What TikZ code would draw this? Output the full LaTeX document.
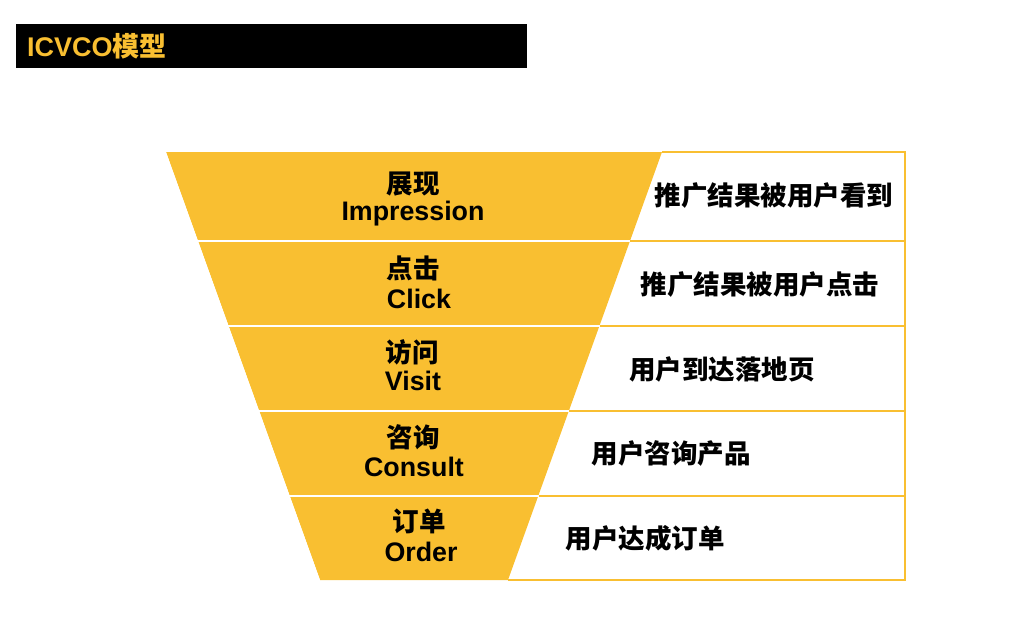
\documentclass[tikz,border=0pt]{standalone}
\usepackage{fontspec}
\setmainfont{Liberation Sans}
\newfontfamily\cjk{Noto Sans CJK SC}
\definecolor{funnel}{HTML}{F9BF31}
\begin{document}
\begin{tikzpicture}[x=1pt,y=-1pt,
  lbl/.style={font=\fontsize{26.8}{30}\selectfont\bfseries, text=black, inner sep=0pt, anchor=center},
  zh/.style={font=\fontsize{26.5}{30}\selectfont\cjk\bfseries, text=black, inner sep=0pt, anchor=center},
  sep/.style={draw=white, line width=2pt},
  boxline/.style={draw=funnel, line width=2pt}]
\useasboundingbox (0,0) rectangle (1010,634);
% title bar
\fill[black] (16,24) rectangle (527,68);
\node[anchor=west, inner sep=0pt, text=funnel, font=\fontsize{27}{30}\selectfont\bfseries] (title) at (27,46) {ICVCO{\cjk\bfseries 模型}};
% right boxes
\draw[boxline] (662,152) -- (905,152) -- (905,580) -- (508,580);
% funnel
\fill[funnel] (166,152) -- (662,152) -- (508,580) -- (320,580) -- cycle;
\draw[sep] (150,240.5) -- (680,240.5);
\draw[sep] (150,325.5) -- (680,325.5);
\draw[sep] (150,410.5) -- (680,410.5);
\draw[sep] (150,495.5) -- (680,495.5);
\fill[white] (150,140) -- (166,152) -- (320,580) -- (150,600) -- cycle;
% row lines of the right boxes
\draw[boxline] (630.3,240.5) -- (905,240.5);
\draw[boxline] (599.8,325.5) -- (905,325.5);
\draw[boxline] (569.2,410.5) -- (905,410.5);
\draw[boxline] (538.6,495.5) -- (905,495.5);
% funnel labels
\node[zh] (z1) at (413,184) {展现};
\node[lbl] (e1) at (413,214) {Impression};
\node[zh] (z2) at (413,268) {点击};
\node[lbl] (e2) at (419,299) {Click};
\node[zh] (z3) at (412,352) {访问};
\node[lbl] (e3) at (413,381) {Visit};
\node[zh] (z4) at (413,437) {咨询};
\node[lbl] (e4) at (414,467) {Consult};
\node[zh] (z5) at (419,521) {订单};
\node[lbl] (e5) at (421,552) {Order};
% descriptions
\node[zh] (d1) at (774,196) {推广结果被用户看到};
\node[zh] (d2) at (760,285) {推广结果被用户点击};
\node[zh] (d3) at (722,369) {用户到达落地页};
\node[zh] (d4) at (671,453) {用户咨询产品};
\node[zh] (d5) at (645,538) {用户达成订单};
\end{tikzpicture}
\end{document}
